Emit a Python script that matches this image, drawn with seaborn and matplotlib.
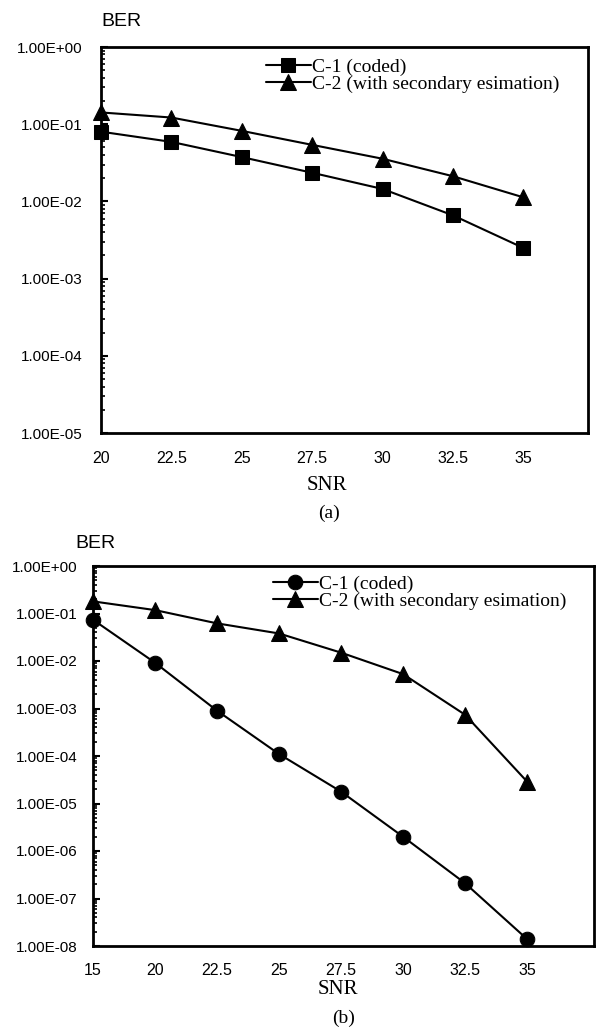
import numpy as np
import pandas as pd
import matplotlib
matplotlib.use("Agg")
import matplotlib.pyplot as plt
import matplotlib.ticker as mticker
import seaborn as sns

# data
snr_a = ["20", "22.5", "25", "27.5", "30", "32.5", "35"]
ber_a_c1 = [0.080, 0.059, 0.0375, 0.0235, 0.0145, 0.0066, 0.0025]
ber_a_c2 = [0.142, 0.122, 0.082, 0.054, 0.0357, 0.0212, 0.0113]

snr_b = ["15", "20", "22.5", "25", "27.5", "30", "32.5", "35"]
ber_b_c1 = [0.074, 0.0092, 0.0009, 1.1e-4, 1.78e-5, 2.0e-6, 2.1e-7, 1.4e-8]
ber_b_c2 = [0.18, 0.118, 0.062, 0.038, 0.015, 0.0053, 0.00074, 2.9e-5]

label_c1 = "C-1 (coded)"
label_c2 = "C-2 (with secondary esimation)"

sns.set_style("ticks")
plt.rcParams['font.family'] = ['Liberation Sans', 'DejaVu Sans']
plt.rcParams.update({"text.color": "black", "axes.edgecolor": "black",
                     "xtick.color": "black", "ytick.color": "black",
                     "axes.labelcolor": "black"})
SERIF = ['Liberation Serif', 'DejaVu Serif']


def draw_panel(ax, cats, c1, c2, c1_marker, xmax, decades, ypad):
    df = pd.DataFrame({"pos": np.arange(len(cats)), "c1": c1, "c2": c2})
    sns.lineplot(data=df, x="pos", y="c1", ax=ax, color="black", lw=1.5,
                 marker=c1_marker, markersize=10.5, markeredgecolor="black",
                 label=label_c1, clip_on=False)
    sns.lineplot(data=df, x="pos", y="c2", ax=ax, color="black", lw=1.5,
                 marker="^", markersize=11.5, markeredgecolor="black",
                 label=label_c2, clip_on=False)
    ax.set_yscale("log")
    ax.set_ylim(10.0 ** (-decades), 1)
    ax.set_xlim(0, xmax)
    ax.set_xticks(np.arange(len(cats)))
    ax.set_xticklabels(cats, fontsize=11.5)
    ax.yaxis.set_major_locator(mticker.LogLocator(base=10, numticks=20))
    ax.yaxis.set_minor_locator(mticker.LogLocator(base=10, subs=np.arange(2, 10), numticks=20))
    ax.yaxis.set_major_formatter(mticker.FuncFormatter(lambda v, p: f"{v:.2E}"))
    ax.yaxis.set_minor_formatter(mticker.NullFormatter())
    ax.tick_params(axis="y", which="major", direction="in", length=5, width=1.5,
                   labelsize=11, pad=ypad)
    ax.tick_params(axis="y", which="minor", direction="in", length=3, width=1.2)
    ax.tick_params(axis="x", length=0, pad=12)
    for s in ax.spines.values():
        s.set_visible(True)
        s.set_linewidth(2)
        s.set_color("black")
    ax.set_xlabel("")
    ax.set_ylabel("")


fig = plt.figure(figsize=(5.96, 10.28), dpi=100)
W, H = 596, 1028

ax1 = fig.add_axes([101 / W, 1 - 433 / H, 487 / W, 386 / H])
draw_panel(ax1, snr_a, ber_a_c1, ber_a_c2, "s", 6.92, 5, 13)
ax1.legend(loc="upper left", bbox_to_anchor=(266 / W, 1 - 58 / H),
           bbox_transform=fig.transFigure, frameon=False,
           prop={"family": SERIF, "size": 14}, handlelength=2.3,
           handletextpad=0.05, labelspacing=0.0, borderpad=0, borderaxespad=0)
ax1.xaxis.set_tick_params(pad=13)

ax2 = fig.add_axes([93 / W, 1 - 946 / H, 501 / W, 380 / H])
draw_panel(ax2, snr_b, ber_b_c1, ber_b_c2, "o", 8.08, 8, 11)
ax2.legend(loc="upper left", bbox_to_anchor=(273 / W, 1 - 575 / H),
           bbox_transform=fig.transFigure, frameon=False,
           prop={"family": SERIF, "size": 14}, handlelength=2.3,
           handletextpad=0.05, labelspacing=0.0, borderpad=0, borderaxespad=0)

# labels placed like the scanned original
fig.text(121 / W, 1 - 22 / H, "BER", fontsize=14, ha="center", va="center")
fig.text(327 / W, 1 - 485 / H, "SNR", fontsize=15, family=SERIF, ha="center", va="center")
fig.text(329 / W, 1 - 513 / H, "(a)", fontsize=14, family=SERIF, ha="center", va="center")

fig.text(95 / W, 1 - 543 / H, "BER", fontsize=14, ha="center", va="center")
fig.text(338 / W, 1 - 990 / H, "SNR", fontsize=15, family=SERIF, ha="center", va="center")
fig.text(344 / W, 1 - 1018 / H, "(b)", fontsize=14, family=SERIF, ha="center", va="center")

fig.savefig("out.png", dpi=100)
